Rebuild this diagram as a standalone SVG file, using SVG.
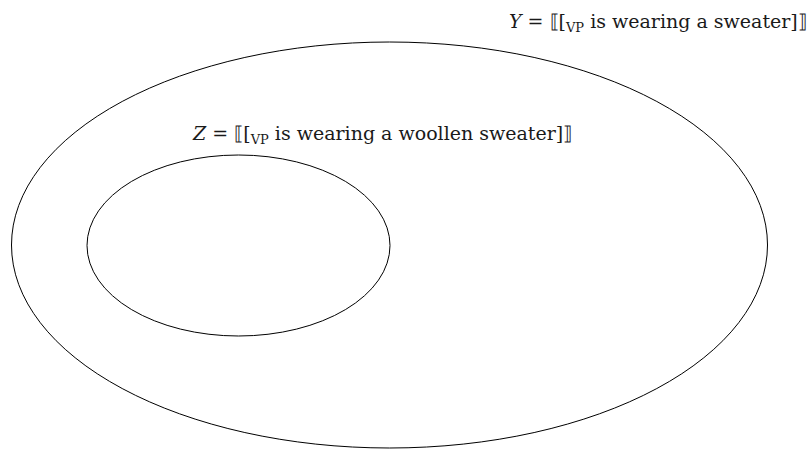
<svg xmlns="http://www.w3.org/2000/svg" width="811" height="449" viewBox="0 0 811 449">
<style>
.set{fill:none;stroke:#000;stroke-width:1}
.lbl{font-family:"DejaVu Serif","Liberation Serif",serif;font-size:19px;fill:#1a1a1a}
.it{font-style:italic}
.sub{font-size:13px}
</style>
<rect width="811" height="449" fill="#fff"/>
<g id="Y">
<ellipse class="set" cx="389.5" cy="245" rx="378" ry="203"/>
<text class="lbl" x="509" y="28"><tspan class="it">Y</tspan> = ⟦[<tspan class="sub" dy="4">VP</tspan><tspan dy="-4"> is wearing a sweater]⟧</tspan></text>
</g>
<g id="Z">
<ellipse class="set" cx="238.5" cy="245.5" rx="151.5" ry="90.5"/>
<text class="lbl" x="193" y="140"><tspan class="it">Z</tspan> = ⟦[<tspan class="sub" dy="4">VP</tspan><tspan dy="-4"> is wearing a woollen sweater]⟧</tspan></text>
</g>
<g id="connectors"/>
</svg>
